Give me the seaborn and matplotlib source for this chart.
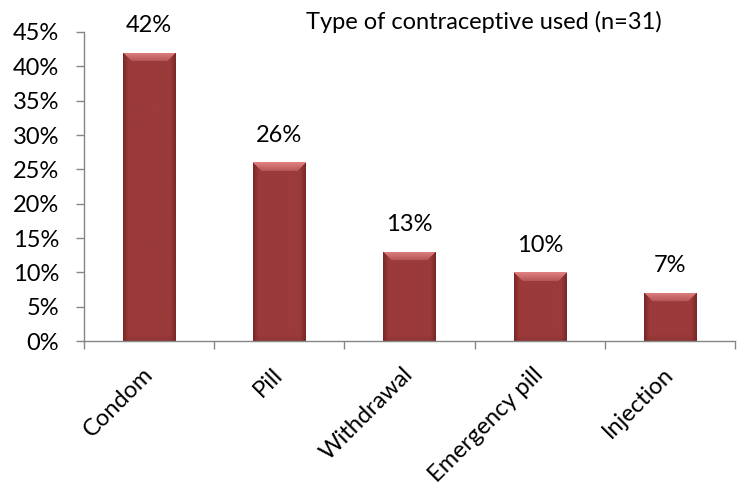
import numpy as np
import pandas as pd
import matplotlib
matplotlib.use("Agg")
import matplotlib.pyplot as plt
from matplotlib.ticker import FixedLocator, FuncFormatter
from matplotlib.transforms import ScaledTranslation
import seaborn as sns

# Contraceptive method used by respondents (n=31), percent of users
methods = ["Condom", "Pill", "Withdrawal", "Emergency pill", "Injection"]
percent = [42, 26, 13, 10, 7]
title = "Type of contraceptive used (n=31)"

df = pd.DataFrame({"method": methods, "percent": percent})

sns.set_theme(style="white")
plt.rcParams["font.family"] = ["Lato", "DejaVu Sans"]

BAR = "#9b3a3a"
AXIS = "#868686"
FS = 17

fig = plt.figure(figsize=(7.38, 4.9), dpi=100)
ax = fig.add_axes([0.1138, 0.304, 0.8822, 0.6307])

sns.barplot(data=df, x="method", y="percent", color=BAR, width=0.4,
            saturation=1, ax=ax, edgecolor="none")

ax.set_xlim(-0.5, len(methods) - 0.5)
ax.set_ylim(0, 45)
ax.set_yticks(np.arange(0, 46, 5))
ax.yaxis.set_major_formatter(FuncFormatter(lambda v, _: f"{v:.0f}%"))
ax.set_xlabel("")
ax.set_ylabel("")

for side in ("top", "right"):
    ax.spines[side].set_visible(False)
for side in ("left", "bottom"):
    ax.spines[side].set_color(AXIS)
    ax.spines[side].set_linewidth(1.0)

ax.tick_params(axis="y", which="major", direction="out", length=6, width=1,
               color=AXIS, labelsize=FS, pad=12, left=True, labelcolor="black")
ax.tick_params(axis="x", which="major", length=0, labelsize=FS, pad=12,
               labelcolor="black")
ax.xaxis.set_minor_locator(FixedLocator(np.arange(-0.5, len(methods), 1.0)))
ax.tick_params(axis="x", which="minor", direction="out", length=6, width=1,
               color=AXIS, bottom=True)

# rotated category labels, nudged down-left so they end just under each bar
shift = ScaledTranslation(-0.07, -0.06, fig.dpi_scale_trans)
for lab in ax.get_xticklabels():
    lab.set_rotation(45)
    lab.set_ha("right")
    lab.set_va("top")
    lab.set_rotation_mode("anchor")
    lab.set_transform(lab.get_transform() + shift)

# Bevelled shading for each bar, clipped to the bar rectangle
fig.canvas.draw()
base = np.array(matplotlib.colors.to_rgb(BAR))
light = np.array([0.88, 0.50, 0.50])
dark = np.array([0.45, 0.14, 0.14])
for patch in ax.patches:
    x0, y0 = patch.get_x(), patch.get_y()
    w, h = patch.get_width(), patch.get_height()
    (px0, py0), (px1, py1) = ax.transData.transform([(x0, y0), (x0 + w, y0 + h)])
    W, H = max(int(round(px1 - px0)), 2), max(int(round(py1 - py0)), 2)
    img = np.tile(base, (H, W, 1))
    cols = np.arange(W)
    edge = np.minimum(cols, W - 1 - cols)
    side = np.clip(1 - edge / 5.0, 0, 1)[None, :, None] * 0.8
    img = img * (1 - side) + dark * side
    # darker band at the foot of the bar
    foot = 6
    for r in range(min(foot, H)):
        t = 1 - r / foot
        img[H - 1 - r] = img[H - 1 - r] * (1 - 0.25 * t) + dark * 0.25 * t
    bev = 9
    for r in range(min(bev, H)):
        t = 1 - r / bev
        c = light * (0.35 + 0.65 * t) + base * (0.65 - 0.65 * t)
        img[r, r:W - r] = c
    im = ax.imshow(img, extent=(x0, x0 + w, y0, y0 + h), aspect="auto",
                   origin="upper", zorder=patch.get_zorder() + 0.1,
                   interpolation="bilinear")
    im.set_clip_path(patch)
    # value label above the bar
    ax.annotate(f"{h:.0f}%", (x0 + w / 2, y0 + h), xytext=(0, 12),
                textcoords="offset points", ha="center", va="bottom",
                fontsize=FS, color="black")

ax.set_xlim(-0.5, len(methods) - 0.5)
ax.set_ylim(0, 45)

fig.text(0.4146, 0.955, title, ha="left", va="center", fontsize=FS,
         color="black")

fig.savefig("out.png", dpi=100)
